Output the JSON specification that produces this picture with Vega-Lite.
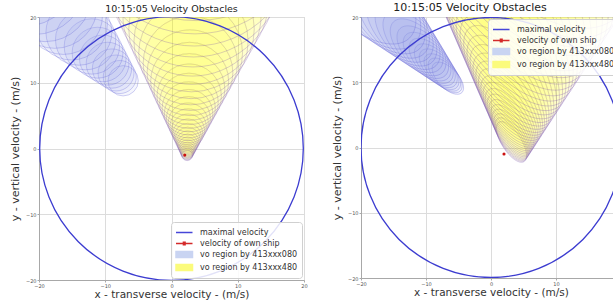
{
  "$schema": "https://vega.github.io/schema/vega-lite/v6.json",
  "padding": {"left": 8, "top": 1, "right": 0, "bottom": 0},
  "background": "white",
  "config": {
    "font": "DejaVu Sans",
    "view": {"stroke": "#cccccc"},
    "axis": {"domainColor": "#a8a8a8", "gridColor": "#dcdcdc", "tickColor": "#a8a8a8", "tickSize": 2, "labelFontSize": 5, "labelColor": "#555555", "labelPadding": 1, "labelFlush": false, "titleFontSize": 11, "titleFontWeight": "normal", "titleColor": "#333333", "titlePadding": 5},
    "axisX": {"titlePadding": 1.5, "titleFontSize": 10.5}
  },
  "datasets": {
    "ship": [
      {"series": "maximal velocity", "x": 0, "y": 0, "r": 20},
      {"series": "velocity of own ship", "x": 2, "y": -1, "r": 0}
    ],
    "left480": [
      {"x": 2.36, "y": -1.04, "r": 0.8}, {"x": 2.37, "y": -0.86, "r": 0.88}, {"x": 2.37, "y": -0.67, "r": 0.97},
      {"x": 2.38, "y": -0.46, "r": 1.06}, {"x": 2.39, "y": -0.22, "r": 1.17}, {"x": 2.4, "y": 0.03, "r": 1.29},
      {"x": 2.41, "y": 0.32, "r": 1.42}, {"x": 2.42, "y": 0.63, "r": 1.56}, {"x": 2.43, "y": 0.97, "r": 1.71},
      {"x": 2.44, "y": 1.35, "r": 1.89}, {"x": 2.46, "y": 1.76, "r": 2.07}, {"x": 2.47, "y": 2.22, "r": 2.28},
      {"x": 2.49, "y": 2.72, "r": 2.51}, {"x": 2.51, "y": 3.28, "r": 2.76}, {"x": 2.53, "y": 3.88, "r": 3.04},
      {"x": 2.55, "y": 4.55, "r": 3.34}, {"x": 2.58, "y": 5.29, "r": 3.68}, {"x": 2.6, "y": 6.1, "r": 4.04},
      {"x": 2.63, "y": 6.99, "r": 4.45}, {"x": 2.67, "y": 7.96, "r": 4.89}, {"x": 2.7, "y": 9.04, "r": 5.38},
      {"x": 2.74, "y": 10.22, "r": 5.92}, {"x": 2.79, "y": 11.53, "r": 6.51}, {"x": 2.84, "y": 12.96, "r": 7.16},
      {"x": 2.89, "y": 14.54, "r": 7.88}, {"x": 2.95, "y": 16.27, "r": 8.67}, {"x": 3.02, "y": 18.17, "r": 9.53},
      {"x": 3.09, "y": 20.27, "r": 10.49}, {"x": 3.17, "y": 22.58, "r": 11.54}, {"x": 3.25, "y": 25.12, "r": 12.69},
      {"x": 3.35, "y": 27.91, "r": 13.96}, {"x": 3.45, "y": 30.98, "r": 15.36}, {"x": 3.57, "y": 34.36, "r": 16.89},
      {"x": 3.69, "y": 38.08, "r": 18.58}
    ],
    "left080": [
      {"x": -7.3, "y": 10.3, "r": 2.3}, {"x": -7.81, "y": 10.87, "r": 2.51}, {"x": -8.37, "y": 11.48, "r": 2.73},
      {"x": -8.98, "y": 12.16, "r": 2.98}, {"x": -9.65, "y": 12.9, "r": 3.25}, {"x": -10.37, "y": 13.7, "r": 3.54},
      {"x": -11.16, "y": 14.57, "r": 3.86}, {"x": -12.02, "y": 15.52, "r": 4.2}, {"x": -12.96, "y": 16.56, "r": 4.58},
      {"x": -13.98, "y": 17.68, "r": 5.0}, {"x": -15.09, "y": 18.91, "r": 5.44}, {"x": -16.31, "y": 20.25, "r": 5.93},
      {"x": -17.63, "y": 21.72, "r": 6.47}, {"x": -19.08, "y": 23.32, "r": 7.05}, {"x": -20.65, "y": 25.05, "r": 7.69},
      {"x": -22.36, "y": 26.94, "r": 8.38}
    ],
    "right480": [
      {"x": 3.15, "y": 0.85, "r": 3.6}, {"x": 3.11, "y": 1.22, "r": 3.85}, {"x": 3.07, "y": 1.61, "r": 4.12},
      {"x": 3.03, "y": 2.03, "r": 4.41}, {"x": 2.98, "y": 2.48, "r": 4.72}, {"x": 2.93, "y": 2.97, "r": 5.05},
      {"x": 2.87, "y": 3.48, "r": 5.4}, {"x": 2.82, "y": 4.03, "r": 5.78}, {"x": 2.76, "y": 4.62, "r": 6.18},
      {"x": 2.69, "y": 5.25, "r": 6.62}, {"x": 2.62, "y": 5.93, "r": 7.08}, {"x": 2.54, "y": 6.65, "r": 7.58},
      {"x": 2.46, "y": 7.42, "r": 8.11}, {"x": 2.37, "y": 8.25, "r": 8.68}, {"x": 2.28, "y": 9.14, "r": 9.28},
      {"x": 2.18, "y": 10.08, "r": 9.93}, {"x": 2.08, "y": 11.1, "r": 10.63}, {"x": 1.96, "y": 12.18, "r": 11.37},
      {"x": 1.84, "y": 13.35, "r": 12.17}, {"x": 1.71, "y": 14.59, "r": 13.02}, {"x": 1.57, "y": 15.92, "r": 13.93},
      {"x": 1.42, "y": 17.34, "r": 14.91}, {"x": 1.26, "y": 18.86, "r": 15.95}, {"x": 1.09, "y": 20.49, "r": 17.07},
      {"x": 0.91, "y": 22.23, "r": 18.26}, {"x": 0.72, "y": 24.09, "r": 19.54}, {"x": 0.51, "y": 26.09, "r": 20.91},
      {"x": 0.28, "y": 28.22, "r": 22.37}, {"x": 0.04, "y": 30.51, "r": 23.94}, {"x": -0.21, "y": 32.95, "r": 25.61},
      {"x": -0.49, "y": 35.56, "r": 27.4}, {"x": -0.78, "y": 38.36, "r": 29.32}, {"x": -1.09, "y": 41.35, "r": 31.37},
      {"x": -1.43, "y": 44.56, "r": 33.57}, {"x": -1.79, "y": 47.98, "r": 35.92}, {"x": -2.17, "y": 51.65, "r": 38.44}
    ],
    "right080": [
      {"x": -6.64, "y": 10.62, "r": 3.1}, {"x": -7.05, "y": 11.05, "r": 3.35}, {"x": -7.49, "y": 11.5, "r": 3.61},
      {"x": -7.98, "y": 12.0, "r": 3.91}, {"x": -8.49, "y": 12.54, "r": 4.22}, {"x": -9.05, "y": 13.11, "r": 4.55},
      {"x": -9.66, "y": 13.74, "r": 4.92}, {"x": -10.31, "y": 14.42, "r": 5.31}, {"x": -11.01, "y": 15.15, "r": 5.74},
      {"x": -11.77, "y": 15.93, "r": 6.2}, {"x": -12.6, "y": 16.79, "r": 6.69}, {"x": -13.49, "y": 17.71, "r": 7.23},
      {"x": -14.44, "y": 18.7, "r": 7.81}, {"x": -15.48, "y": 19.77, "r": 8.43}, {"x": -16.6, "y": 20.92, "r": 9.1},
      {"x": -17.8, "y": 22.18, "r": 9.83}, {"x": -19.11, "y": 23.53, "r": 10.62}, {"x": -20.52, "y": 24.98, "r": 11.47}
    ]
  },
  "resolve": {"scale": {"size": "independent"}, "legend": {"color": "independent", "shape": "independent"}},
  "spacing": 22,
  "hconcat": [
    {
      "width": 265,
      "height": 263,
      "title": {"text": "10:15:05  Velocity Obstacles", "fontSize": 9.5, "fontWeight": "normal", "color": "#222222", "offset": 2},
      "encoding": {
        "x": {"field": "x", "type": "quantitative", "scale": {"domain": [-20, 20], "nice": false, "zero": false}, "axis": {"title": "x - transverse velocity - (m/s)", "values": [-20, -10, 0, 10, 20]}},
        "y": {"field": "y", "type": "quantitative", "scale": {"domain": [-20, 20], "nice": false, "zero": false}, "axis": {"title": "y - vertical velocity - (m/s)", "values": [-20, -10, 0, 10, 20]}}
      },
      "layer": [
        {
          "data": {"name": "left080"},
          "mark": {"type": "point", "shape": "circle", "filled": true, "opacity": 1, "fill": "#8f9bec", "fillOpacity": 0.09, "stroke": "#6a6ad8", "strokeOpacity": 0.45, "strokeWidth": 0.7, "clip": true},
          "encoding": {"size": {"field": "r", "type": "quantitative", "scale": {"type": "pow", "exponent": 2, "domain": [0, 40], "range": [0, 277940]}, "legend": null}}
        },
        {
          "data": {"name": "left480"},
          "mark": {"type": "point", "shape": "circle", "filled": true, "opacity": 1, "fill": "#ffff00", "fillOpacity": 0.05, "stroke": "#7a52b0", "strokeOpacity": 0.4, "strokeWidth": 0.7, "clip": true},
          "encoding": {"size": {"field": "r", "type": "quantitative", "scale": {"type": "pow", "exponent": 2, "domain": [0, 40], "range": [0, 277940]}, "legend": null}}
        },
        {
          "data": {"name": "ship"},
          "transform": [{"filter": "datum.series === 'maximal velocity'"}],
          "mark": {"type": "point", "shape": "circle", "filled": false, "opacity": 1, "stroke": "#3c3cd0", "strokeWidth": 1.3, "clip": true},
          "encoding": {"size": {"field": "r", "type": "quantitative", "scale": {"type": "pow", "exponent": 2, "domain": [0, 40], "range": [0, 277940]}, "legend": null}}
        },
        {
          "data": {"name": "ship"},
          "transform": [{"filter": "datum.series === 'velocity of own ship'"}],
          "mark": {"type": "point", "shape": "circle", "filled": true, "opacity": 1, "fill": "#cc1111", "size": 10}
        },
        {
          "data": {"name": "ship"},
          "mark": {"type": "point", "filled": true, "opacity": 0},
          "encoding": {
            "color": {"field": "series", "type": "nominal",
              "scale": {"domain": ["maximal velocity", "velocity of own ship", "vo region by 413xxx080", "vo region by 413xxx480"], "range": ["#4646d8", "#d42a2a", "#c9d4f2", "#fbfb7c"]},
              "legend": {"title": null, "orient": "bottom-right", "offset": 2, "padding": 4, "fillColor": "rgba(255,255,255,0.85)", "strokeColor": "#d0d0d0", "cornerRadius": 3, "labelFontSize": 8, "labelColor": "#333333", "labelOffset": 12, "symbolSize": 121, "symbolStrokeWidth": 1.5, "rowPadding": 0, "labelLimit": 200,
                "encode": {"symbols": {"update": {"fill": {"scale": "color", "field": "value"}, "stroke": {"scale": "color", "field": "value"}, "opacity": {"value": 1}}}}}},
            "shape": {"field": "series", "type": "nominal",
              "scale": {"domain": ["maximal velocity", "velocity of own ship", "vo region by 413xxx080", "vo region by 413xxx480"], "range": ["M-1,0H2", "M-1,0H2M0.35,-0.22H0.65V0.22H0.35Z", "M-1,-0.55H2V0.55H-1Z", "M-1,-0.55H2V0.55H-1Z"]},
              "legend": {"title": null, "orient": "bottom-right", "offset": 2, "padding": 4, "fillColor": "rgba(255,255,255,0.85)", "strokeColor": "#d0d0d0", "cornerRadius": 3, "labelFontSize": 8, "labelColor": "#333333", "labelOffset": 12, "symbolSize": 121, "symbolStrokeWidth": 1.5, "rowPadding": 0, "labelLimit": 200}}
          }
        }
      ]
    },
    {
      "width": 260,
      "height": 261,
      "title": {"text": "10:15:05  Velocity Obstacles", "fontSize": 11, "fontWeight": "normal", "color": "#222222", "offset": 2, "dx": -21},
      "encoding": {
        "x": {"field": "x", "type": "quantitative", "scale": {"domain": [-20, 20], "nice": false, "zero": false}, "axis": {"title": "x - transverse velocity - (m/s)", "values": [-20, -10, 0, 10, 20]}},
        "y": {"field": "y", "type": "quantitative", "scale": {"domain": [-20, 20], "nice": false, "zero": false}, "axis": {"title": "y - vertical velocity - (m/s)", "values": [-20, -10, 0, 10, 20]}}
      },
      "layer": [
        {
          "data": {"name": "right080"},
          "mark": {"type": "point", "shape": "M-1,0A1,0.5,0,1,0,1,0A1,0.5,0,1,0,-1,0Z", "angle": 46, "filled": true, "opacity": 1, "fill": "#8f9bec", "fillOpacity": 0.09, "stroke": "#6a6ad8", "strokeOpacity": 0.45, "strokeWidth": 0.7, "clip": true},
          "encoding": {"size": {"field": "r", "type": "quantitative", "scale": {"type": "pow", "exponent": 2, "domain": [0, 40], "range": [0, 270400]}, "legend": null}}
        },
        {
          "data": {"name": "right480"},
          "mark": {"type": "point", "shape": "M-1,0A1,0.417,0,1,0,1,0A1,0.417,0,1,0,-1,0Z", "angle": 57.4, "filled": true, "opacity": 1, "fill": "#ffff00", "fillOpacity": 0.04, "stroke": "#7a52b0", "strokeOpacity": 0.38, "strokeWidth": 0.7, "clip": true},
          "encoding": {"size": {"field": "r", "type": "quantitative", "scale": {"type": "pow", "exponent": 2, "domain": [0, 40], "range": [0, 270400]}, "legend": null}}
        },
        {
          "data": {"name": "ship"},
          "transform": [{"filter": "datum.series === 'maximal velocity'"}],
          "mark": {"type": "point", "shape": "circle", "filled": false, "opacity": 1, "stroke": "#3c3cd0", "strokeWidth": 1.3, "clip": true},
          "encoding": {"size": {"field": "r", "type": "quantitative", "scale": {"type": "pow", "exponent": 2, "domain": [0, 40], "range": [0, 270400]}, "legend": null}}
        },
        {
          "data": {"name": "ship"},
          "transform": [{"filter": "datum.series === 'velocity of own ship'"}],
          "mark": {"type": "point", "shape": "circle", "filled": true, "opacity": 1, "fill": "#cc1111", "size": 10}
        },
        {
          "data": {"name": "ship"},
          "mark": {"type": "point", "filled": true, "opacity": 0},
          "encoding": {
            "color": {"field": "series", "type": "nominal",
              "scale": {"domain": ["maximal velocity", "velocity of own ship", "vo region by 413xxx080", "vo region by 413xxx480"], "range": ["#4646d8", "#d42a2a", "#c9d4f2", "#fbfb7c"]},
              "legend": {"title": null, "orient": "top-right", "offset": 2, "padding": 4, "fillColor": "rgba(255,255,255,0.85)", "strokeColor": "#d0d0d0", "cornerRadius": 3, "labelFontSize": 8, "labelColor": "#333333", "labelOffset": 12, "symbolSize": 121, "symbolStrokeWidth": 1.5, "rowPadding": 0, "labelLimit": 200,
                "encode": {"symbols": {"update": {"fill": {"scale": "color", "field": "value"}, "stroke": {"scale": "color", "field": "value"}, "opacity": {"value": 1}}}}}},
            "shape": {"field": "series", "type": "nominal",
              "scale": {"domain": ["maximal velocity", "velocity of own ship", "vo region by 413xxx080", "vo region by 413xxx480"], "range": ["M-1,0H2", "M-1,0H2M0.35,-0.22H0.65V0.22H0.35Z", "M-1,-0.55H2V0.55H-1Z", "M-1,-0.55H2V0.55H-1Z"]},
              "legend": {"title": null, "orient": "top-right", "offset": 2, "padding": 4, "fillColor": "rgba(255,255,255,0.85)", "strokeColor": "#d0d0d0", "cornerRadius": 3, "labelFontSize": 8, "labelColor": "#333333", "labelOffset": 12, "symbolSize": 121, "symbolStrokeWidth": 1.5, "rowPadding": 0, "labelLimit": 200}}
          }
        }
      ]
    }
  ]
}
